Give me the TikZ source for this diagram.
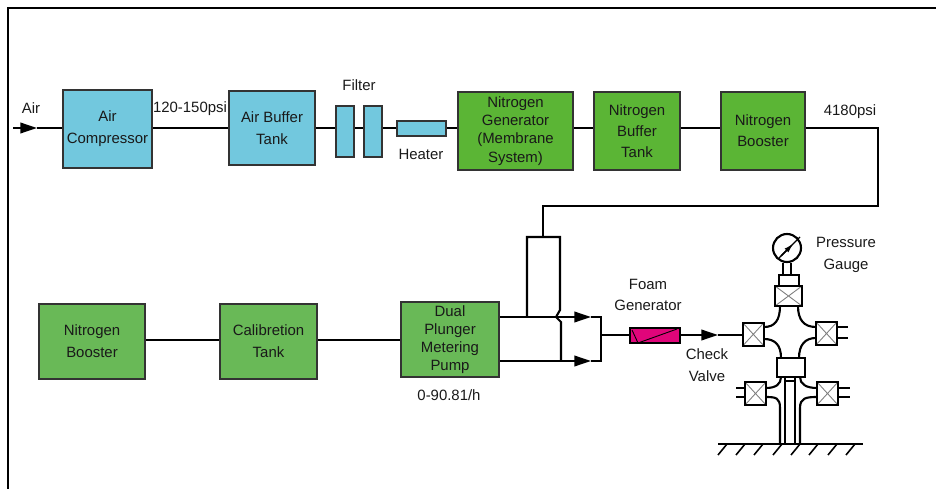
\documentclass[tikz,border=0pt]{standalone}
\usepackage{fontspec}
\setmainfont{Liberation Sans}
\usetikzlibrary{calc,arrows.meta}
\definecolor{tankblue}{HTML}{72C8DE}
\definecolor{upgreen}{HTML}{5BB535}
\definecolor{lowgreen}{HTML}{69B957}
\definecolor{foampink}{HTML}{E0057A}
\tikzset{
  pipe/.style={line width=1.2pt,line join=miter},
  tag/.style={font=\fontsize{8.5}{12.4}\selectfont,align=center,text=black!90,inner sep=0pt},
  tight/.style={font=\fontsize{8.5}{10.3}\selectfont},
  mid/.style={font=\fontsize{8.5}{12}\selectfont},
  box/.style={draw=black!80,line width=1.2pt,tag,inner sep=0pt},
  bluebox/.style={box,fill=tankblue},
  greenbox/.style={box,fill=upgreen},
  lowbox/.style={box,fill=lowgreen},
  valve/.style={draw=black,line width=1.3pt,fill=white,minimum width=0.42cm,minimum height=0.46cm,inner sep=0pt,
    path picture={\draw[gray,line width=0.5pt] (path picture bounding box.north west)--(path picture bounding box.south east)
      (path picture bounding box.north east)--(path picture bounding box.south west);}},
  plain/.style={draw=black,line width=1.4pt,fill=white,inner sep=0pt},
}
\begin{document}
\begin{tikzpicture}[x=0.02cm,y=-0.02cm,>={Triangle[length=9.5pt,width=6pt]}]
  \useasboundingbox (0,0) rectangle (936,489);
  % frame
  \draw[line width=1.2pt] (8,489)--(8,8)--(936,8);
  % upper row
  \coordinate (mainline) at (0,128);
  \node[bluebox,minimum width=1.78cm,minimum height=1.56cm] (compressor) at (107.5,129) {Air\\Compressor};
  \node[bluebox,minimum width=1.72cm,minimum height=1.48cm] (airtank) at (272,128) {Air Buffer\\Tank};
  \node[bluebox,minimum width=0.36cm,minimum height=1.02cm] (filterA) at (345,131.5) {};
  \node[bluebox,minimum width=0.36cm,minimum height=1.02cm] (filterB) at (373,131.5) {};
  \node[bluebox,minimum width=0.98cm,minimum height=0.3cm] (heater) at (421.5,128.5) {};
  \node[greenbox,tight,minimum width=2.3cm,minimum height=1.56cm] (generator) at (515.5,131) {Nitrogen\\Generator\\(Membrane\\System)};
  \node[greenbox,mid,minimum width=1.72cm,minimum height=1.56cm] (n2tank) at (637,131) {Nitrogen\\Buffer\\Tank};
  \node[greenbox,mid,minimum width=1.68cm,minimum height=1.56cm] (n2boost) at (763,131) {Nitrogen\\Booster};
  % lower row
  \node[lowbox,minimum width=2.12cm,minimum height=1.5cm] (booster) at (92,341.5) {Nitrogen\\Booster};
  \node[lowbox,minimum width=1.94cm,minimum height=1.5cm] (calib) at (268.5,341.5) {Calibretion\\Tank};
  \node[lowbox,tight,minimum width=1.96cm,minimum height=1.5cm] (pump) at (450,339.5) {Dual\\Plunger\\Metering\\Pump};
  \node[draw=black,line width=1.3pt,fill=foampink,minimum width=1cm,minimum height=0.3cm,inner sep=0pt,
    path picture={\draw[line width=0.5pt] (-23,-5.5)--(-17,7.5)--(22,-6.5);}] (foam) at (655,335.5) {};
  % labels
  \node[tag] (airlabel) at (31,108) {Air};
  \node[tag] (psilabel) at (190,109) {120-150psi};
  \node[tag] (filterlabel) at (359,85) {Filter};
  \node[tag] (heaterlabel) at (421,154) {Heater};
  \node[tag] (outlabel) at (850,112) {4180psi};
  \node[tag] (foamlabel) at (648,295) {Foam\\Generator};
  \node[tag] (checklabel) at (707,365) {Check\\Valve};
  \node[tag] (gaugelabel) at (846,255) {Pressure\\Gauge};
  \node[tag] (ratelabel) at (449,395) {0-90.81/h};
  % upper connectors
  \coordinate (airin) at (13,128);
  \coordinate (airtip) at (37,128);
  \coordinate (turnA) at (878,128);
  \coordinate (turnB) at (878,206);
  \coordinate (turnC) at (543,206);
  \draw[pipe,->] (airin)--(airtip);
  \draw[pipe] (airtip)--(compressor.west|-mainline);
  \draw[pipe] (compressor.east|-mainline)--(airtank.west|-mainline);
  \draw[pipe] (airtank.east|-mainline)--(filterA.west|-mainline);
  \draw[pipe] (filterA.east|-mainline)--(filterB.west|-mainline);
  \draw[pipe] (filterB.east|-mainline)--(heater.west|-mainline);
  \draw[pipe] (heater.east|-mainline)--(generator.west|-mainline);
  \draw[pipe] (generator.east|-mainline)--(n2tank.west|-mainline);
  \draw[pipe] (n2tank.east|-mainline)--(n2boost.west|-mainline);
  \draw[pipe] (n2boost.east|-mainline)--(turnA)--(turnB)--(turnC)--(543,237);
  % lower connectors
  \coordinate (lowline) at (0,340);
  \draw[pipe] (booster.east|-lowline)--(calib.west|-lowline);
  \draw[pipe] (calib.east|-lowline)--(pump.west|-lowline);
  \coordinate (tipA) at (591,317);
  \coordinate (tipB) at (591,361);
  \coordinate (joinA) at (601,317);
  \coordinate (joinB) at (601,361);
  \coordinate (joinM) at (601,335);
  \draw[pipe,->] (pump.east|-tipA)--(tipA);
  \draw[pipe,->] (pump.east|-tipB)--(tipB);
  \draw[pipe] (tipA)--(joinA)--(joinB)--(tipB);
  \draw[pipe] (joinM)--(foam.west|-joinM);
  % bypass with hop over the upper line
  \draw[pipe] (527,317)--(527,237)--(560,237)--(560,310)--(556,317)--(561,322)--(561,361);
  % wellhead
  \node[valve] (valveL) at (753.3,334.3) {};
  \node[valve] (valveR) at (826.5,333.5) {};
  \node[valve,minimum width=0.54cm,minimum height=0.4cm] (valveT) at (788.5,296) {};
  \node[valve] (valveBL) at (755.5,393.5) {};
  \node[valve] (valveBR) at (827.5,393.5) {};
  \node[plain,minimum width=0.4cm,minimum height=0.22cm] (cap) at (789,280.5) {};
  \node[plain,minimum width=0.56cm,minimum height=0.38cm] (spool) at (791,367.5) {};
  \node[draw=black,line width=1.2pt,fill=white,circle,minimum size=0.56cm,inner sep=0pt] (gauge) at (787,248) {};
  \coordinate (checktip) at (718,335);
  \draw[pipe,->] (foam.east|-joinM)--(checktip);
  \draw[pipe] (checktip)--(valveL.west|-checktip);
  \draw[pipe] (783,263)--(783,275) (791,263)--(791,275);
  \draw[line width=0.7pt] (779,258)--(800,237);
  \draw[line width=0.9pt,-{Latex[length=6pt,width=3pt]}] (781,256)--(794,243);
  \draw[pipe] (780,306) .. controls (780,320) and (775,327) .. (764,327);
  \draw[pipe] (764,339) .. controls (775,339) and (781,345) .. (781,358);
  \draw[pipe] (798,306) .. controls (798,320) and (804,327) .. (816,327);
  \draw[pipe] (816,338) .. controls (805,338) and (799,345) .. (799,358);
  \draw[pipe] (781,377) .. controls (781,384) and (776,388) .. (766,388);
  \draw[pipe] (766,397) .. controls (776,397) and (780,398) .. (780,408)--(780,444);
  \draw[pipe] (800,377) .. controls (800,384) and (806,388) .. (817,388);
  \draw[pipe] (817,397) .. controls (806,397) and (800,398) .. (800,408)--(800,444);
  \foreach \x in {785,795} {
    \draw[pipe] (\x,377)--(\x,444);
  }
  \draw[pipe] (785,381)--(795,381);
  \foreach \y in {327,338} {
    \draw[pipe] (837,\y)--(848,\y);
  }
  \foreach \y in {388,397} {
    \draw[pipe] (736,\y)--(745,\y);
    \draw[pipe] (838,\y)--(850,\y);
  }
  % ground
  \draw[pipe] (718,444)--(863,444);
  \foreach \x in {727,745,763,782,800,818,837,855} {
    \draw[line width=0.9pt] (\x,444)--(\x-9,455);
  }
\end{tikzpicture}
\end{document}
